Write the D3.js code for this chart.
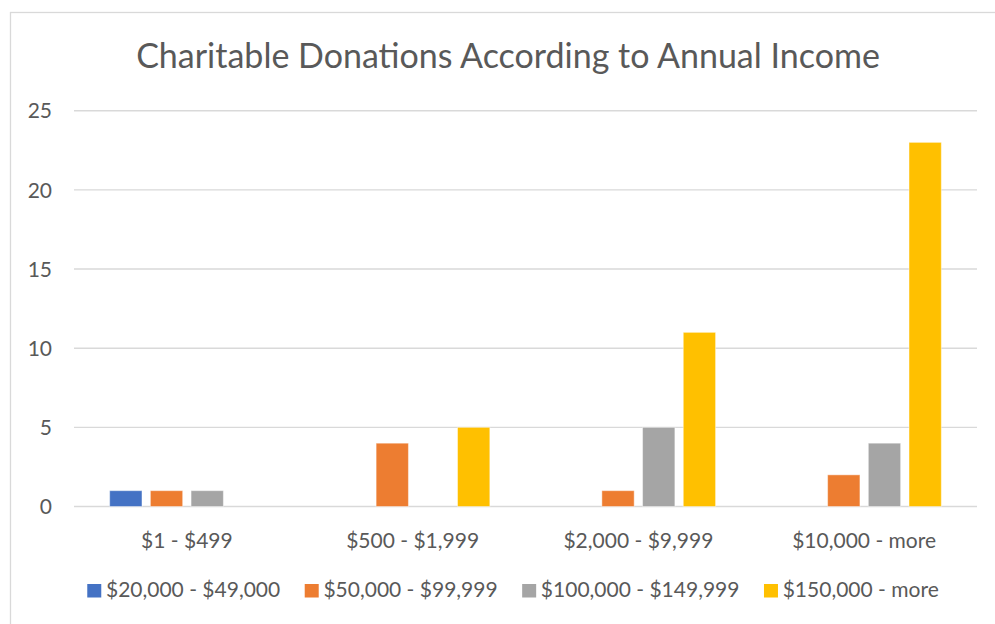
<!DOCTYPE html>
<html>
<head>
<meta charset="utf-8">
<script src="https://cdn.jsdelivr.net/npm/d3@7"></script>
<style>
  html, body { margin: 0; padding: 0; background: #fff; }
  svg { display: block; }
  text { font-family: Lato, "Open Sans", sans-serif; fill: #595959; }
</style>
</head>
<body>
<svg id="chart" width="995" height="624"></svg>
<script>
// Donation bands along the x axis
const categories = ["$1 - $499", "$500 - $1,999", "$2,000 - $9,999", "$10,000 - more"];

// Annual income groups (one bar series each)
const seriesNames = ["$20,000 - $49,000", "$50,000 - $99,999", "$100,000 - $149,999", "$150,000 - more"];
const income20to49 = [1, 0, 0, 0];
const income50to99 = [1, 4, 1, 2];
const income100to149 = [1, 0, 5, 4];
const income150plus = [0, 5, 11, 23];
const seriesValues = [income20to49, income50to99, income100to149, income150plus];
const seriesColors = ["#4472C4", "#ED7D31", "#A5A5A5", "#FFC000"];

const yTicks = [0, 5, 10, 15, 20, 25];
const title = "Charitable Donations According to Annual Income";

const svg = d3.select("#chart");
const W = 995, H = 624;
const plot = { left: 74, right: 977, top: 110.7, bottom: 506.5 };

// chart frame
svg.append("rect")
  .attr("x", 10.5).attr("y", 12.5)
  .attr("width", W + 20).attr("height", H + 20)
  .attr("fill", "#fff").attr("stroke", "#D9D9D9").attr("stroke-width", 1.3);

const x0 = d3.scaleBand().domain(categories).range([plot.left, plot.right]).padding(0);
const outer = x0.bandwidth() * 0.158;
const x1 = d3.scaleBand().domain(seriesNames)
  .range([outer, x0.bandwidth() - outer])
  .paddingInner(0.206).paddingOuter(0);
const y = d3.scaleLinear().domain([0, 25]).range([plot.bottom, plot.top]);

// horizontal gridlines
svg.append("g").selectAll("line").data(yTicks).join("line")
  .attr("x1", plot.left).attr("x2", plot.right)
  .attr("y1", d => y(d)).attr("y2", d => y(d))
  .attr("stroke", "#D9D9D9").attr("stroke-width", 1.4);

// y axis labels
const yAxis = d3.axisLeft(y).tickValues(yTicks).tickSize(0).tickPadding(0);
const gy = svg.append("g").attr("transform", "translate(52,0)").call(yAxis);
gy.select(".domain").remove();
gy.selectAll("text").attr("font-size", 21).attr("fill", "#595959")
  .style("font-family", "Lato, sans-serif").attr("dy", "0.34em");

// x axis labels
const xAxis = d3.axisBottom(x0).tickSize(0).tickPadding(0);
const gx = svg.append("g").attr("transform", `translate(0,${plot.bottom})`).call(xAxis);
gx.select(".domain").remove();
gx.selectAll("text").attr("font-size", 21).attr("fill", "#595959")
  .style("font-family", "Lato, sans-serif").attr("y", 41).attr("dy", 0);

// bars
const barData = [];
seriesNames.forEach((s, i) => {
  categories.forEach((c, j) => {
    const v = seriesValues[i][j];
    if (v > 0) barData.push({ series: s, cat: c, value: v, color: seriesColors[i] });
  });
});
svg.append("g").selectAll("rect").data(barData).join("rect")
  .attr("x", d => x0(d.cat) + x1(d.series))
  .attr("width", x1.bandwidth())
  .attr("y", d => y(d.value))
  .attr("height", d => y(0) - y(d.value))
  .attr("fill", d => d.color)
  .attr("stroke", "rgba(255,255,255,0.45)").attr("stroke-width", 1);

// title
svg.append("text")
  .attr("x", 508).attr("y", 67.5)
  .attr("text-anchor", "middle")
  .attr("font-size", 34)
  .text(title);

// legend, centred under the plot
const legend = svg.append("g");
const sq = 14, gapText = 4.7, gapItem = 24.5;
const items = seriesNames.map((s, i) => {
  const g = legend.append("g");
  g.append("rect").attr("x", 0).attr("y", 584).attr("width", sq).attr("height", 13.5)
    .attr("fill", seriesColors[i]);
  const t = g.append("text").attr("x", sq + gapText).attr("y", 596.7)
    .attr("font-size", 21).text(s);
  return { g, w: sq + gapText + t.node().getComputedTextLength() };
});
const total = d3.sum(items, d => d.w) + gapItem * (items.length - 1);
let cx = 513 - total / 2;
items.forEach(it => {
  it.g.attr("transform", `translate(${cx},0)`);
  cx += it.w + gapItem;
});
</script>
</body>
</html>
